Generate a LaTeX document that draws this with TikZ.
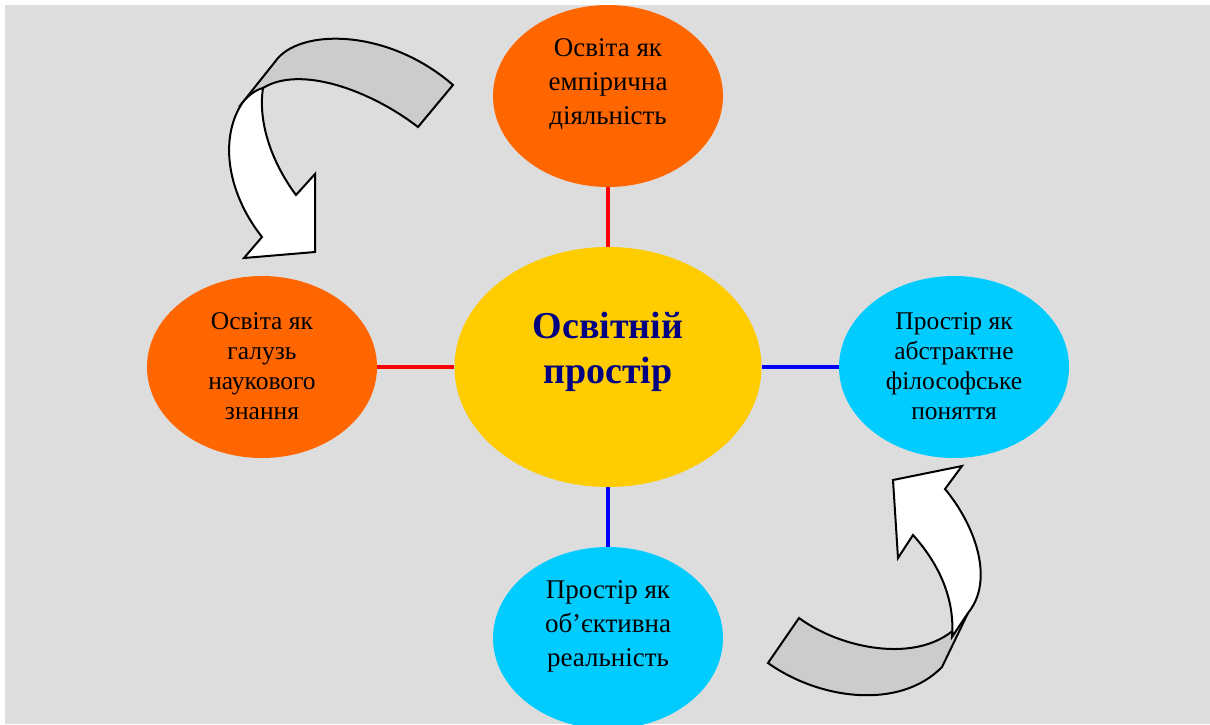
\documentclass[tikz,border=0pt]{standalone}
\usepackage{fontspec}
\setmainfont{Liberation Serif}
\usepackage{xcolor}
\usetikzlibrary{shapes.geometric}

\definecolor{bggray}{HTML}{DDDDDD}
\definecolor{orng}{HTML}{FF6600}
\definecolor{gold}{HTML}{FFCC00}
\definecolor{sky}{HTML}{00CCFF}
\definecolor{navy}{HTML}{000080}
\definecolor{bandgray}{HTML}{CCCCCC}

\tikzset{
    blob/.style={ellipse, inner sep=0pt, minimum width=115pt, minimum height=91pt},
    txt/.style={align=center, inner sep=0pt, font=\fontsize{13.5}{17}\selectfont},
    sidetxt/.style={align=center, inner sep=0pt, font=\fontsize{12.75}{15}\selectfont},
    link/.style={line width=2pt},
    turnarrow/.style={draw=black, line width=1pt, line join=miter}
}

\begin{document}
\begin{tikzpicture}[x=0.5pt, y=-0.5pt]
        \clip (0,0) rectangle (1210,724);
        \fill[white] (0,0) rectangle (1210,724);
        \fill[bggray] (5,5) rectangle (1210,724);

        \node[blob, fill=orng] (A) at (608,96) {};
        \node[blob, fill=orng] (B) at (262,367) {};
        \node[blob, fill=gold, minimum width=153.5pt, minimum height=120pt] (C) at (608,367) {};
        \node[blob, fill=sky] (D) at (954,367) {};
        \node[blob, fill=sky] (E) at (608,638) {};

        \node[txt] (At) at (608,84) {Освіта як\\емпірична\\діяльність};
        \node[sidetxt] (Bt) at (262,366) {Освіта як\\галузь\\наукового\\знання};
        \node[align=center, inner sep=0pt, text=navy,
            font=\fontsize{19}{22.5}\bfseries] (Ct) at (608,352) {Освітній\\простір};
        \node[sidetxt] (Dt) at (954,366) {Простір як\\абстрактне\\філософське\\поняття};
        \node[txt] (Et) at (608,626) {Простір як\\об’єктивна\\реальність};

        \draw[link, red] (A) -- (C);
        \draw[link, red] (B) -- (C);
        \draw[link, blue] (C) -- (D);
        \draw[link, blue] (C) -- (E);

        \filldraw[turnarrow, fill=bandgray] (243,102) -- (278,58)
            .. controls (305,28) and (390,30) .. (453,85) -- (418,127)
            .. controls (370,90) and (300,65) .. (263,88) -- cycle;
        \filldraw[turnarrow, fill=white] (263,88)
            .. controls (258,120) and (270,160) .. (296,195)
            -- (315,174) -- (315,252) -- (244,258) -- (262,237)
            .. controls (225,190) and (220,135) .. (243,102)
            .. controls (248,96) and (255,90) .. (263,88) -- cycle;

        \filldraw[turnarrow, fill=bandgray] (768,663) -- (799,618)
            .. controls (845,652) and (935,668) .. (968,613) -- (942,667)
            .. controls (900,710) and (820,700) .. (768,663) -- cycle;
        \filldraw[turnarrow, fill=white] (952,637)
            .. controls (955,600) and (940,565) .. (913,535)
            -- (898,558) -- (893,480) -- (962,466) -- (945,489)
            .. controls (975,525) and (995,580) .. (968,613) -- cycle;
\end{tikzpicture}
\end{document}
